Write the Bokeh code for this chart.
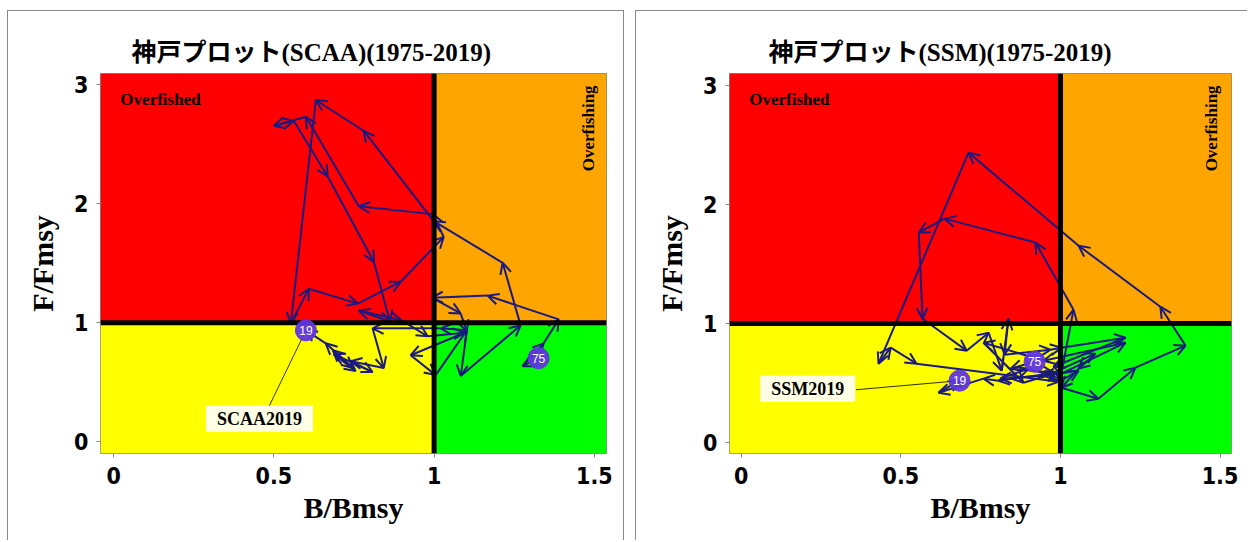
import numpy as np
from bokeh.plotting import figure
from bokeh.models import (Range1d, ColumnDataSource, Arrow, OpenHead, Span, Label,
                          FixedTicker, NumeralTickFormatter)
from bokeh.layouts import row
from bokeh.embed import file_html
from bokeh.resources import INLINE
from bokeh.core.properties import value

# ---------------- data ----------------
years = list(range(1975, 2020))

scaa_b = [1.326, 1.276, 1.342, 1.389, 1.167, 0.993, 1.083, 1.102, 1.083, 1.270,
          1.214, 0.999, 0.780, 0.631, 0.553, 0.609, 0.762, 0.896, 1.030, 0.996,
          0.765, 0.600, 0.500, 0.562, 0.668, 0.812, 0.862, 0.765, 0.899, 0.980,
          1.095, 0.927, 1.005, 1.102, 1.021, 0.808, 0.843, 0.740, 0.808, 0.687,
          0.755, 0.684, 0.746, 0.662, 0.600]
scaa_f = [0.701, 0.634, 0.826, 1.027, 1.227, 1.210, 1.077, 0.927, 0.551, 0.977,
          1.503, 1.853, 2.613, 2.871, 0.993, 1.285, 1.160, 1.344, 1.720, 1.912,
          1.978, 2.730, 2.654, 2.696, 2.229, 1.511, 1.010, 1.102, 1.018, 0.885,
          0.915, 0.726, 0.559, 0.935, 0.952, 0.952, 0.618, 0.676, 0.584, 0.735,
          0.593, 0.768, 0.618, 0.826, 0.935]

ssm_b = [0.919, 0.844, 0.978, 1.110, 1.057, 1.003, 1.119, 1.235, 1.392, 1.313,
         1.057, 0.712, 0.430, 0.468, 0.549, 0.994, 1.057, 0.947, 0.812, 0.900,
         1.000, 1.041, 0.922, 0.637, 0.556, 0.568, 0.706, 0.775, 0.816, 0.837,
         0.825, 0.969, 1.003, 1.204, 0.978, 1.003, 1.204, 0.947, 0.759, 0.884,
         0.988, 0.806, 0.759, 0.618, 0.684]
ssm_f = [0.678, 0.620, 0.586, 0.746, 0.620, 0.460, 0.368, 0.628, 0.813, 1.140,
         1.652, 2.433, 0.662, 0.796, 0.662, 0.510, 0.603, 0.561, 0.536, 0.620,
         0.536, 1.115, 1.678, 1.879, 1.762, 1.039, 0.771, 0.922, 0.603, 1.039,
         0.737, 0.779, 0.796, 0.880, 0.636, 0.578, 0.838, 0.687, 0.838, 0.502,
         0.586, 0.519, 0.536, 0.418, 0.519]

x_ticks = [0, 0.5, 1, 1.5]
y_ticks = [0, 1, 2, 3]
B_REF = 1.0
F_REF = 1.0

RED, ORANGE, YELLOW, GREEN = "#FF0000", "#FFA500", "#FFFF00", "#00FF00"
ARROW = "#1a1a80"
DOT = "#5f35e0"
SERIF = "'Liberation Serif', 'Noto Sans CJK JP'"
TICKFONT = "'Liberation Sans Narrow', 'DejaVu Sans Condensed', 'Liberation Sans'"


def panel(title, bv, fv, xr, yr, lab_text, lab_pos, lab_anchor, width, height,
          mb, title_offset, over_x, styles, margin):
    p = figure(width=width, height=height, x_range=Range1d(*xr), y_range=Range1d(*yr),
               output_backend="svg", toolbar_location=None,
               min_border_left=mb[0], min_border_right=mb[1],
               min_border_top=mb[2], min_border_bottom=mb[3],
               styles=styles, margin=margin)
    p.title.text = title
    p.title.text_font = SERIF
    p.title.text_font_size = "25px"
    p.title.text_font_style = "bold"
    p.title.text_color = "black"
    p.title.align = "left"
    p.title.offset = title_offset
    p.title.standoff = 16
    p.xgrid.visible = False
    p.ygrid.visible = False
    p.outline_line_color = "#888888"
    p.background_fill_color = "white"

    # zones
    p.quad(left=[xr[0], B_REF, xr[0], B_REF], right=[B_REF, xr[1], B_REF, xr[1]],
           bottom=[F_REF, F_REF, yr[0], yr[0]], top=[yr[1], yr[1], F_REF, F_REF],
           fill_color=[RED, ORANGE, YELLOW, GREEN], line_color=None, level="underlay")

    # axes
    for ax in (p.xaxis[0], p.yaxis[0]):
        ax.axis_line_color = None
        ax.major_tick_line_color = "#888888"
        ax.major_tick_in = 0
        ax.major_tick_out = 4
        ax.minor_tick_line_color = None
        ax.major_label_text_font = TICKFONT
        ax.major_label_text_font_style = "bold"
        ax.major_label_text_font_size = "23px"
        ax.major_label_text_color = "black"
        ax.axis_label_text_font = SERIF
        ax.axis_label_text_font_style = "bold"
        ax.axis_label_text_font_size = "30px"
        ax.axis_label_text_color = "black"
    p.xaxis.major_label_standoff = 9
    p.yaxis.major_label_standoff = 8
    p.xaxis.ticker = FixedTicker(ticks=x_ticks)
    p.yaxis.ticker = FixedTicker(ticks=y_ticks)
    p.xaxis.formatter = NumeralTickFormatter(format="0.[0]")
    p.xaxis.axis_label = "B/Bmsy"
    p.yaxis.axis_label = "F/Fmsy"
    p.xaxis.axis_label_standoff = 4
    p.yaxis.axis_label_standoff = 12

    # trajectory arrows
    src = ColumnDataSource(dict(x0=bv[:-1], y0=fv[:-1], x1=bv[1:], y1=fv[1:]))
    p.add_layout(Arrow(end=OpenHead(size=11, line_color=ARROW, line_width=2),
                       x_start="x0", y_start="y0", x_end="x1", y_end="y1",
                       source=src, line_color=ARROW, line_width=2))

    # reference lines
    p.add_layout(Span(location=B_REF, dimension="height", line_color="black", line_width=5))
    p.add_layout(Span(location=F_REF, dimension="width", line_color="black", line_width=5))

    # zone labels
    p.add_layout(Label(x=xr[0] + 0.062, y=yr[1] - 0.215, text="Overfished",
                       text_font="Liberation Serif", text_font_style="bold",
                       text_color="black",
                       text_font_size="17px", text_baseline="middle", text_align="left"))
    p.add_layout(Label(x=over_x, y=yr[1] - 0.10, text="Overfishing", angle=np.pi / 2,
                       text_font="Liberation Serif", text_font_style="bold",
                       text_color="black",
                       text_font_size="17px", text_baseline="middle", text_align="right"))

    # callout for final year
    p.line([lab_anchor[0], bv[-1]], [lab_anchor[1], fv[-1]], line_color="#333300", line_width=1)
    p.add_layout(Label(x=lab_pos[0], y=lab_pos[1], text=lab_text,
                       text_font="Liberation Serif", text_font_style="bold",
                       text_color="black",
                       text_font_size="18px", text_baseline="middle", text_align="center",
                       background_fill_color="#FFFFE6", padding=(11, 3)))

    # start / end markers
    ends = ColumnDataSource(dict(x=[bv[0], bv[-1]], y=[fv[0], fv[-1]],
                                 t=[str(years[0])[-2:], str(years[-1])[-2:]]))
    p.scatter("x", "y", source=ends, size=21, fill_color=DOT, line_color=DOT,
              fill_alpha=0.95, level="overlay")
    p.text("x", "y", text="t", source=ends, text_color="white", text_align="center",
           text_baseline="middle", text_font=value("Liberation Sans"),
           text_font_size="12px", level="overlay")
    return p


p1 = panel("神戸プロット(SCAA)(1975-2019)", scaa_b, scaa_f, (-0.041, 1.538), (-0.10, 3.094),
           "SCAA2019", (0.455, 0.192), (0.483, 0.285), 617, 530, (92, 19, 62, 85), 31,
           1.482, {"border-top": "1px solid #888", "border-left": "1px solid #888",
                   "border-right": "1px solid #888"}, (10, 0, 0, 7))
p2 = panel("神戸プロット(SSM)(1975-2019)", ssm_b, ssm_f, (-0.037, 1.536), (-0.092, 3.097),
           "SSM2019", (0.208, 0.452), (0.359, 0.443), 612, 530, (93, 17, 62, 88), 39,
           1.473, {"border-top": "1px solid #888", "border-left": "1px solid #888"},
           (10, 0, 0, 11))

layout = row(p1, p2)
open("out.html", "w").write(file_html(layout, INLINE))
